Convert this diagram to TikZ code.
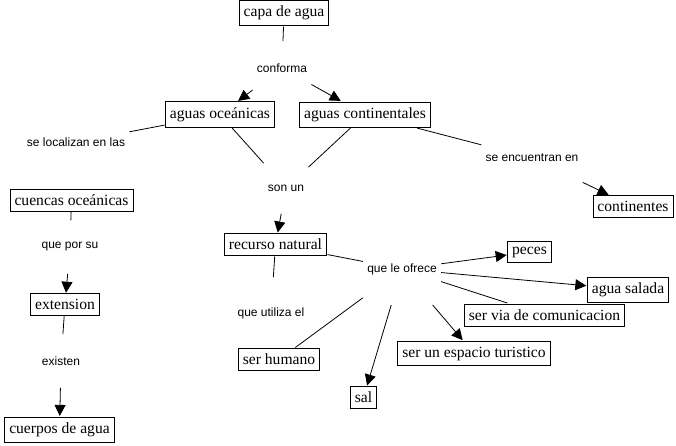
\documentclass[tikz,border=0pt]{standalone}
\usepackage{fontspec}
\setmainfont{Liberation Serif}
\setsansfont{Liberation Sans}
\usetikzlibrary{arrows.meta}

\begin{document}
\begin{tikzpicture}[x=1pt, y=-1pt, line width=0.8pt,
  concept/.style={draw, fill=white, inner xsep=4.5pt, inner ysep=5.5pt, outer sep=1pt, font=\fontsize{15.6}{18}\selectfont},
  link/.style={inner xsep=4pt, inner ysep=22pt, font=\sffamily\fontsize{12}{14}\selectfont},
  tall/.style={inner ysep=30pt},
  arr/.style={-{Triangle[length=11pt,width=11pt]}}]
\useasboundingbox (0,0) rectangle (676,445);
% concepts
\node[concept] (capa) at (284,13) {capa de agua};
\node[concept] (oceanicas) at (220,114.5) {aguas oceánicas};
\node[concept] (continentales) at (365,114.5) {aguas continentales};
\node[concept] (cuencas) at (71.5,200) {cuencas oceánicas};
\node[concept] (continentes) at (633,206.5) {continentes};
\node[concept] (recurso) at (275.5,244.5) {recurso natural};
\node[concept] (peces) at (529.5,252) {peces};
\node[concept] (salada) at (628,289.5) {agua salada};
\node[concept] (extension) at (65,304.5) {extension};
\node[concept] (via) at (544.5,315) {ser via de comunicacion};
\node[concept] (humano) at (279,359.5) {ser humano};
\node[concept] (turistico) at (474,353.5) {ser un espacio turistico};
\node[concept] (sal) at (363.5,397.5) {sal};
\node[concept] (cuerpos) at (59.5,429.5) {cuerpos de agua};
% linking phrases
\node[link] (conforma) at (282,68) {conforma};
\node[link] (localizan) at (76,142) {se localizan en las};
\node[link] (sonun) at (286,188) {son un};
\node[link] (encuentran) at (532,158) {se encuentran en};
\node[link] (porsu) at (70,247) {que por su};
\node[link, tall] (ofrece) at (402,269) {que le ofrece};
\node[link, tall] (utiliza) at (271,313) {que utiliza el};
\node[link] (existen) at (61,361) {existen};
% connectors
\draw (capa) -- (conforma);
\draw[arr] (conforma) -- (oceanicas);
\draw[arr] (conforma) -- (continentales);
\draw (oceanicas) -- (localizan);
\draw (cuencas) -- (porsu);
\draw[arr] (porsu) -- (extension);
\draw (extension) -- (existen);
\draw[arr] (existen) -- (cuerpos);
\draw (oceanicas) -- (sonun);
\draw (continentales) -- (sonun);
\draw[arr] (sonun) -- (recurso);
\draw (continentales) -- (encuentran);
\draw[arr] (encuentran) -- (continentes);
\draw (recurso) -- (ofrece);
\draw (recurso) -- (utiliza);
\draw (ofrece) -- (humano);
\draw[arr] (ofrece) -- (sal);
\draw[arr] (ofrece) -- (turistico);
\draw[arr] (ofrece) -- (peces);
\draw[arr] (ofrece) -- (salada);
\draw (ofrece) -- (via);
\end{tikzpicture}
\end{document}
